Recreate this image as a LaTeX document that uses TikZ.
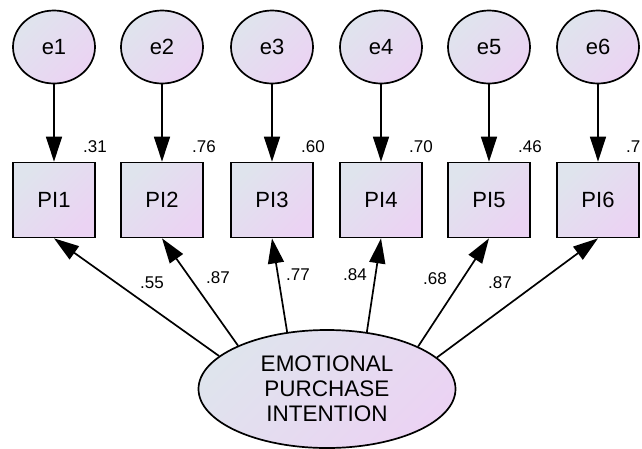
\documentclass[tikz,border=0pt]{standalone}
\usepackage{fontspec}
\setmainfont{Liberation Sans}
\usetikzlibrary{arrows.meta}
\usetikzlibrary{shapes.geometric}
\definecolor{shadeblue}{RGB}{223,228,237}
\definecolor{shadepink}{RGB}{235,211,243}

\begin{document}
\begin{tikzpicture}[x=1pt,y=-1pt,
  fillshade/.style={top color=shadeblue,bottom color=shadepink,shading angle=45},
  errnode/.style={ellipse,draw,line width=1.7pt,fillshade,minimum width=82pt,minimum height=73pt,inner sep=0pt,font=\fontsize{22}{22}\selectfont},
  itembox/.style={rectangle,draw,line width=1.7pt,fillshade,minimum width=82pt,minimum height=75pt,inner sep=0pt,font=\fontsize{22}{22}\selectfont},
  latent/.style={ellipse,draw,line width=1.7pt,fillshade,minimum width=257pt,minimum height=118pt,inner sep=0pt,align=center,font=\fontsize{22.5}{25}\selectfont},
  coef/.style={inner sep=0pt,font=\fontsize{17}{17}\selectfont},
  path/.style={line width=1.7pt,-{Triangle[length=25pt,width=16pt]}}]

\useasboundingbox (0,0) rectangle (642,448);

% error terms
\node[errnode] (e1) at (54,47) {e1};
\node[errnode] (e2) at (162,47) {e2};
\node[errnode] (e3) at (272,47) {e3};
\node[errnode] (e4) at (381,47) {e4};
\node[errnode] (e5) at (489,47) {e5};
\node[errnode] (e6) at (598,47) {e6};

% observed items
\node[itembox] (pi1) at (54,200) {PI1};
\node[itembox] (pi2) at (162,200) {PI2};
\node[itembox] (pi3) at (272,200) {PI3};
\node[itembox] (pi4) at (381,200) {PI4};
\node[itembox] (pi5) at (489,200) {PI5};
\node[itembox] (pi6) at (598,200) {PI6};

% latent factor
\node[latent] (epi) at (327,389) {EMOTIONAL\\PURCHASE\\INTENTION};

% arrows from errors
\draw[path] (e1) -- (pi1);
\draw[path] (e2) -- (pi2);
\draw[path] (e3) -- (pi3);
\draw[path] (e4) -- (pi4);
\draw[path] (e5) -- (pi5);
\draw[path] (e6) -- (pi6);

% arrows from factor
\draw[path] (epi.163.8) -- (pi1.south);
\draw[path] (epi.154.4) -- (pi2.south);
\draw[path] (epi.125.4) -- (pi3.south);
\draw[path] (epi.55.9) -- (pi4.south);
\draw[path] (epi.25) -- (pi5.south);
\draw[path] (epi.16.2) -- (pi6.south);

% squared multiple correlations
\node[coef] (r1) at (95,147) {.31};
\node[coef] (r2) at (204,147) {.76};
\node[coef] (r3) at (313,147) {.60};
\node[coef] (r4) at (421,147) {.70};
\node[coef] (r5) at (530,147) {.46};
\node[coef,anchor=west] (r6) at (626,147) {.7};

% loadings
\node[coef] (l1) at (152,283) {.55};
\node[coef] (l2) at (218,278) {.87};
\node[coef] (l3) at (298,275) {.77};
\node[coef] (l4) at (355,275) {.84};
\node[coef] (l5) at (435,279) {.68};
\node[coef] (l6) at (500,283) {.87};

\end{tikzpicture}
\end{document}
